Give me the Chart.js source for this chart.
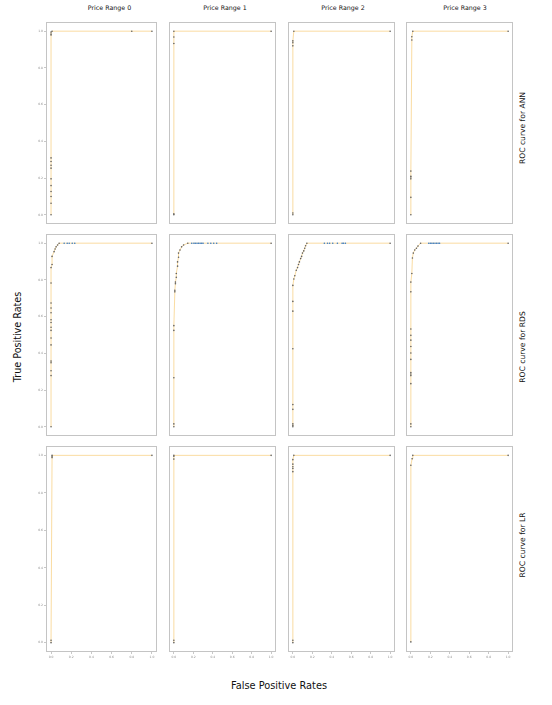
<!DOCTYPE html>
<html><head><meta charset="utf-8">
<script src="https://cdn.jsdelivr.net/npm/chart.js@4"></script>
<style>
html,body{margin:0;padding:0;background:#fff;}
#root{position:relative;width:552px;height:705px;overflow:hidden;font-family:"DejaVu Sans",sans-serif;color:#000;}
.panel{position:absolute;}
.panel canvas{display:block;}
.txt{position:absolute;white-space:nowrap;line-height:1;color:#111;}
</style></head><body><div id="root"></div>
<script>
// ---- categories / labels ----
const models = ['ANN', 'RDS', 'LR'];
const rangeLabels = ['Price Range 0', 'Price Range 1', 'Price Range 2', 'Price Range 3'];
const rowLabels = ['ROC curve for ANN', 'ROC curve for RDS', 'ROC curve for LR'];
const axisTicks = [0, 0.2, 0.4, 0.6, 0.8, 1.0];
const xTitle = 'False Positive Rates';
const yTitle = 'True Positive Rates';

// ---- ANN ----
const annFpr0 = [0,0,0,0,0,0,0,0,0,0,0,0,0,0.01,0.8,1];
const annTpr0 = [0,0.063,0.10,0.127,0.159,0.196,0.254,0.27,0.29,0.31,0.979,0.984,0.995,1,1,1];
const annBlue0 = [];
const annFpr1 = [0,0,0,0,0,1];
const annTpr1 = [0,0.005,0.933,0.968,1,1];
const annBlue1 = [];
const annFpr2 = [0,0,0,0,0,0.01,1];
const annTpr2 = [0,0.01,0.92,0.937,0.947,1,1];
const annBlue2 = [];
const annFpr3 = [0,0,0,0,0,0,0.01,0.01,0.02,1];
const annTpr3 = [0,0.095,0.196,0.206,0.21,0.238,0.952,0.97,1,1];
const annBlue3 = [];

// ---- RDS ----
const rdsFpr0 = [0,0,0,0,0,0,0,0,0,0,0,0,0,0,0,0,0.01,0.01,0.03,0.04,0.05,0.065,0.08,1];
const rdsTpr0 = [0,0.279,0.305,0.349,0.358,0.446,0.484,0.525,0.542,0.568,0.583,0.621,0.647,0.674,0.783,0.867,0.884,0.928,0.954,0.968,0.98,0.99,1,1];
const rdsBlue0 = [0.13,0.16,0.18,0.21,0.235];
const rdsFpr1 = [0,0,0,0,0,0.01,0.01,0.016,0.016,0.025,0.025,0.038,0.038,0.048,0.048,0.063,0.08,0.1,0.143,1];
const rdsTpr1 = [0,0.016,0.267,0.525,0.551,0.735,0.744,0.779,0.788,0.814,0.835,0.875,0.898,0.923,0.946,0.963,0.98,0.99,1,1];
const rdsBlue1 = [0.184,0.206,0.22,0.238,0.254,0.27,0.286,0.30,0.35,0.38,0.41,0.44];
const rdsFpr2 = [0,0,0,0,0,0,0,0,0,0.01,0.02,0.035,0.048,0.058,0.067,0.08,0.09,0.099,0.112,0.122,0.131,0.144,1];
const rdsTpr2 = [0,0.007,0.016,0.095,0.121,0.425,0.63,0.683,0.77,0.805,0.823,0.853,0.867,0.884,0.898,0.916,0.928,0.946,0.958,0.972,0.986,1,1];
const rdsBlue2 = [0.324,0.356,0.378,0.41,0.458,0.506,0.52,0.54];
const rdsFpr3 = [0,0,0,0,0,0,0,0,0,0,0,0,0,0,0.01,0.016,0.025,0.04,0.057,0.073,0.1,1];
const rdsTpr3 = [0,0.016,0.235,0.279,0.288,0.296,0.367,0.402,0.437,0.472,0.498,0.533,0.735,0.788,0.835,0.919,0.946,0.963,0.972,0.984,1,1];
const rdsBlue3 = [0.184,0.2,0.216,0.231,0.248,0.264,0.28,0.295];

// ---- LR ----
const lrFpr0 = [0,0,0.01,0.01,0.01,1];
const lrTpr0 = [0,0.013,0.988,0.995,1,1];
const lrBlue0 = [];
const lrFpr1 = [0,0,0,0,0,1];
const lrTpr1 = [0,0.013,0.98,0.995,1,1];
const lrBlue1 = [];
const lrFpr2 = [0,0,0,0,0,0,0,0.01,1];
const lrTpr2 = [0,0.013,0.913,0.93,0.939,0.953,0.977,1,1];
const lrBlue2 = [];
const lrFpr3 = [0,0,0.013,0.02,1];
const lrTpr3 = [0.004,0.947,0.982,1,1];
const lrBlue3 = [];

const table = {
  ANN: [[annFpr0, annTpr0, annBlue0], [annFpr1, annTpr1, annBlue1], [annFpr2, annTpr2, annBlue2], [annFpr3, annTpr3, annBlue3]],
  RDS: [[rdsFpr0, rdsTpr0, rdsBlue0], [rdsFpr1, rdsTpr1, rdsBlue1], [rdsFpr2, rdsTpr2, rdsBlue2], [rdsFpr3, rdsTpr3, rdsBlue3]],
  LR:  [[lrFpr0, lrTpr0, lrBlue0], [lrFpr1, lrTpr1, lrBlue1], [lrFpr2, lrTpr2, lrBlue2], [lrFpr3, lrTpr3, lrBlue3]]
};

// ---- layout ----
const colLeft = [46, 165, 284, 402];
const rowTop = [18, 230, 442];
const PW = 115, PH = 210;
const PAD_L = 14, PAD_B = 9;
const headerX = [109.5, 225, 343, 465];
const rowLabelY = [127.5, 346.7, 545];

const root = document.getElementById('root');

function addText(str, cx, cy, size, rot) {
  const d = document.createElement('div');
  d.className = 'txt';
  d.textContent = str;
  d.style.left = cx + 'px';
  d.style.top = cy + 'px';
  d.style.fontSize = size + 'px';
  d.style.transform = 'translate(-50%,-50%)' + (rot ? ' rotate(' + rot + 'deg)' : '');
  root.appendChild(d);
}

const framePlugin = {
  id: 'frame',
  afterDraw(chart) {
    const a = chart.chartArea, ctx = chart.ctx;
    ctx.save();
    ctx.strokeStyle = '#c4c4c4';
    ctx.lineWidth = 1;
    ctx.strokeRect(a.left + 0.5, a.top + 0.5, a.right - a.left - 1, a.bottom - a.top - 1);
    ctx.restore();
  }
};

function axis(show, isX) {
  return {
    type: 'linear', min: -0.05, max: 1.05, display: show,
    afterBuildTicks: s => { s.ticks = axisTicks.map(v => ({ value: v })); },
    ticks: { font: { size: 3, family: 'DejaVu Sans' }, color: '#8a8a8a', padding: 1, autoSkip: false, maxRotation: 0,
             callback: v => Number(v).toFixed(1) },
    grid: { display: true, drawOnChartArea: false, drawTicks: true, tickLength: 2, color: '#c8c8c8' },
    border: { display: false },
    afterFit: s => {
      if (!show) { s.width = 0; s.height = 0; return; }
      if (isX) { s.height = PAD_B; s.paddingLeft = 0; s.paddingRight = 0; }
      else { s.width = PAD_L; s.paddingTop = 0; s.paddingBottom = 0; }
    }
  };
}

models.forEach((m, r) => {
  table[m].forEach((panel, c) => {
    const [fpr, tpr, blue] = panel;
    const showY = c === 0, showX = r === models.length - 1;
    const padL = showY ? PAD_L : 0, padB = showX ? PAD_B : 0;
    const W = PW + padL, H = PH + padB;
    const div = document.createElement('div');
    div.className = 'panel';
    div.style.left = (colLeft[c] - padL) + 'px';
    div.style.top = rowTop[r] + 'px';
    div.style.width = W + 'px';
    div.style.height = H + 'px';
    const cv = document.createElement('canvas');
    cv.width = W; cv.height = H;
    cv.style.width = W + 'px'; cv.style.height = H + 'px';
    div.appendChild(cv);
    root.appendChild(div);

    const grayPts = fpr.map((x, i) => ({ x: x, y: tpr[i] }));
    const bluePts = blue.map(x => ({ x: x, y: 1 }));
    const linePts = grayPts.concat(bluePts).sort((a, b) => (a.x - b.x) || (a.y - b.y));

    new Chart(cv, {
      type: 'scatter',
      data: {
        datasets: [
          { data: linePts, showLine: true, borderColor: 'rgba(245,185,70,0.5)', borderWidth: 1, pointRadius: 0, order: 3 },
          { data: grayPts, showLine: false, pointRadius: 0.8, backgroundColor: '#606060', pointBorderWidth: 0, order: 1 },
          { data: bluePts, showLine: false, pointRadius: 0.8, backgroundColor: '#3a7cc4', pointBorderWidth: 0, order: 2 }
        ]
      },
      options: {
        responsive: false, animation: false, devicePixelRatio: 1, events: [],
        layout: { padding: 0 },
        plugins: { legend: { display: false }, tooltip: { enabled: false } },
        scales: { x: axis(showX, true), y: axis(showY, false) }
      },
      plugins: [framePlugin]
    });
  });
});

rangeLabels.forEach((t, c) => addText(t, headerX[c], 7.5, 6.3, 0));
rowLabels.forEach((t, r) => addText(t, 523, rowLabelY[r], 7.6, -90));
addText(yTitle, 18, 336.5, 9.6, -90);
addText(xTitle, 279, 686, 9.8, 0);
</script>
</body></html>
